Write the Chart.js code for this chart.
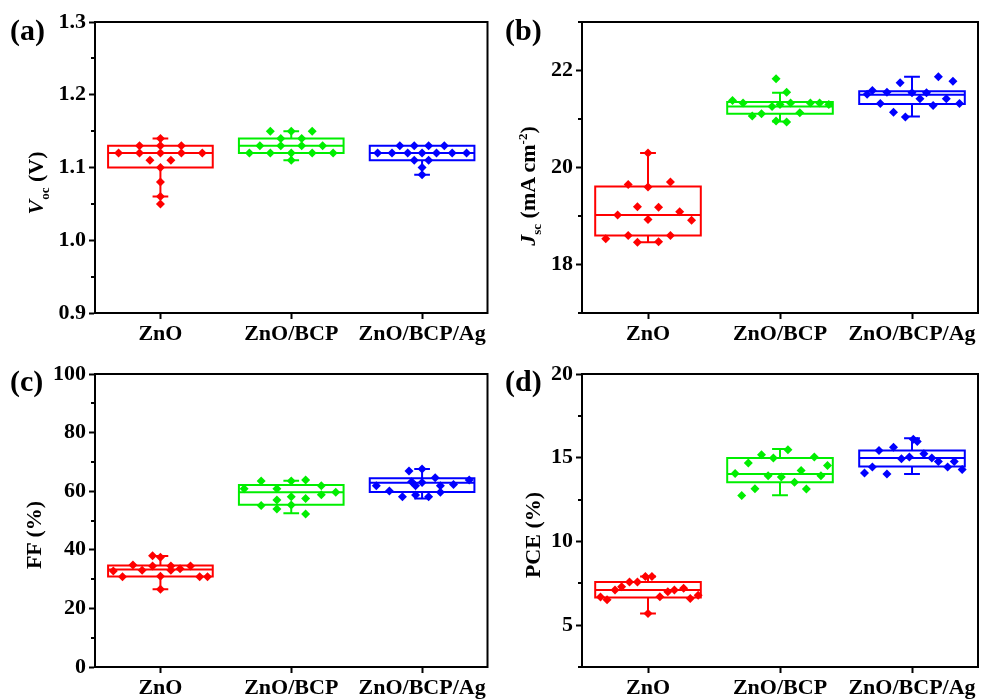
<!DOCTYPE html>
<html>
<head>
<meta charset="utf-8">
<script src="https://cdn.jsdelivr.net/npm/chart.js@4.4.1/dist/chart.umd.min.js"></script>
<style>
  body { margin: 0; background: #fff; }
  #wrap { position: relative; width: 984px; height: 699px; overflow: hidden; font-family: 'Liberation Serif', 'Times New Roman', serif; font-weight: bold; color: #000; }
  .pane { position: absolute; }
  .tag { position: absolute; font-size: 30px; line-height: 30px; }
  .ytitle { position: absolute; font-size: 22px; white-space: nowrap; transform: translate(-50%, -50%) rotate(-90deg); }
  .ytitle sub, .ytitle sup { font-size: 13px; }
</style>
</head>
<body>
<div id="wrap">
  <div class="pane" style="left:0;top:0"><canvas id="chartA" width="492" height="345"></canvas></div>
  <div class="pane" style="left:492px;top:0"><canvas id="chartB" width="492" height="345"></canvas></div>
  <div class="pane" style="left:0;top:345px"><canvas id="chartC" width="492" height="354"></canvas></div>
  <div class="pane" style="left:492px;top:345px"><canvas id="chartD" width="492" height="354"></canvas></div>

  <div class="tag" style="left:10px;top:15px">(a)</div>
  <div class="tag" style="left:505px;top:15px">(b)</div>
  <div class="tag" style="left:10px;top:366px">(c)</div>
  <div class="tag" style="left:505px;top:366px">(d)</div>

  <div class="ytitle" style="left:38px;top:183px"><i>V</i><sub>oc</sub> (V)</div>
  <div class="ytitle" style="left:530px;top:186px"><i>J</i><sub>sc</sub> (mA cm<sup>-2</sup>)</div>
  <div class="ytitle" style="left:34px;top:535px">FF (%)</div>
  <div class="ytitle" style="left:533px;top:535px">PCE (%)</div>
</div>

<script>
// categories and colours
const categories = ['ZnO', 'ZnO/BCP', 'ZnO/BCP/Ag'];
const colors = ['#ff0000', '#00ee00', '#0000ff'];

// (a) Voc
const vocTicks = [0.9, 1.0, 1.1, 1.2, 1.3];
const vocMinor = [0.95, 1.05, 1.15, 1.25];
const vocZnO = [1.12, 1.13, 1.12, 1.14, 1.13, 1.12, 1.11, 1.11, 1.10, 1.08, 1.06, 1.05, 1.13, 1.12, 1.12];
const vocZnOJit = [-0.32, -0.16, -0.16, 0, 0, 0, -0.08, 0.08, 0, 0, 0, 0, 0.16, 0.16, 0.32];
const vocBCP = [1.15, 1.15, 1.15, 1.14, 1.14, 1.13, 1.13, 1.13, 1.13, 1.12, 1.12, 1.12, 1.12, 1.12, 1.11];
const vocBCPJit = [-0.16, 0, 0.16, -0.08, 0.08, -0.24, -0.08, 0.08, 0.24, -0.32, -0.16, 0, 0.16, 0.32, 0];
const vocAg = [1.13, 1.13, 1.13, 1.13, 1.12, 1.12, 1.12, 1.12, 1.12, 1.12, 1.12, 1.11, 1.11, 1.10, 1.09];
const vocAgJit = [-0.17, -0.06, 0.05, 0.17, -0.34, -0.23, -0.11, 0, 0.11, 0.23, 0.34, -0.06, 0.05, 0, 0];
// [whisker low, q1, median, q3, whisker high]
const vocBoxes = [[1.06, 1.10, 1.12, 1.13, 1.14], [1.11, 1.12, 1.13, 1.14, 1.15], [1.09, 1.11, 1.12, 1.13, 1.13]];

// (b) Jsc
const jscTicks = [18, 20, 22];
const jscMinor = [17, 19, 21, 23];
const jscZnO = [20.30, 19.65, 19.60, 19.70, 19.19, 19.18, 19.02, 18.93, 19.09, 18.91, 18.53, 18.60, 18.46, 18.47, 18.60];
const jscZnOJit = [0, -0.15, 0, 0.17, -0.08, 0.08, -0.23, 0, 0.24, 0.33, -0.32, -0.15, -0.08, 0.08, 0.17];
const jscBCP = [21.83, 21.55, 21.38, 21.33, 21.26, 21.30, 21.33, 21.33, 21.33, 21.30, 21.06, 21.11, 21.13, 20.96, 20.94];
const jscBCPJit = [-0.03, 0.05, -0.36, -0.28, -0.06, 0, 0.08, 0.23, 0.30, 0.37, -0.21, -0.14, 0.15, -0.03, 0.05];
const jscAg = [21.51, 21.59, 21.55, 21.32, 21.14, 21.75, 21.04, 21.54, 21.42, 21.54, 21.28, 21.87, 21.42, 21.78, 21.32];
const jscAgJit = [-0.34, -0.30, -0.19, -0.24, -0.14, -0.09, -0.05, 0, 0.06, 0.11, 0.16, 0.20, 0.26, 0.31, 0.36];
const jscBoxes = [[18.46, 18.60, 19.02, 19.61, 20.30], [20.95, 21.11, 21.26, 21.35, 21.54], [21.05, 21.31, 21.50, 21.57, 21.87]];

// (c) FF
const ffTicks = [0, 20, 40, 60, 80, 100];
const ffMinor = [10, 30, 50, 70, 90];
const ffZnO = [32.8, 30.8, 34.8, 33.0, 38.0, 34.5, 37.5, 26.5, 31.0, 34.5, 33.0, 33.5, 34.5, 30.8, 30.8];
const ffZnOJit = [-0.36, -0.29, -0.21, -0.14, -0.06, -0.06, 0, 0, 0, 0.08, 0.08, 0.15, 0.23, 0.30, 0.36];
const ffBCP = [60.8, 63.5, 60.8, 63.5, 63.8, 61.9, 59.6, 58.8, 55.1, 57.0, 53.9, 58.1, 55.3, 57.5, 52.2];
const ffBCPJit = [-0.36, -0.23, -0.11, 0, 0.11, 0.23, 0.34, 0.23, -0.23, -0.11, -0.11, 0, 0, 0.11, 0.11];
const ffAg = [61.9, 60.1, 58.1, 66.9, 63.2, 61.9, 58.7, 67.6, 63.0, 58.1, 64.6, 61.9, 59.6, 62.3, 63.8];
const ffAgJit = [-0.35, -0.25, -0.15, -0.10, -0.08, -0.05, -0.05, 0, 0, 0.05, 0.10, 0.14, 0.14, 0.24, 0.36];
const ffBoxes = [[26.5, 30.9, 33.3, 34.6, 37.9], [52.5, 55.4, 59.6, 62.1, 63.6], [57.5, 59.7, 62.9, 64.4, 67.6]];

// (d) PCE
const pceTicks = [5, 10, 15, 20];
const pceMinor = [2.5, 7.5, 12.5, 17.5];
const pceZnO = [6.68, 6.51, 7.10, 7.30, 7.58, 7.58, 7.90, 7.90, 5.70, 6.70, 7.00, 7.10, 7.20, 6.59, 6.79];
const pceZnOJit = [-0.36, -0.31, -0.25, -0.20, -0.14, -0.08, -0.02, 0.03, 0, 0.09, 0.15, 0.20, 0.27, 0.32, 0.38];
const pceBCP = [14.05, 12.74, 14.68, 13.15, 15.18, 13.93, 14.98, 13.85, 15.48, 13.53, 14.24, 13.13, 15.04, 13.93, 14.54];
const pceBCPJit = [-0.34, -0.29, -0.24, -0.19, -0.14, -0.09, -0.05, 0.01, 0.06, 0.11, 0.16, 0.20, 0.26, 0.31, 0.36];
const pceAg = [14.09, 14.45, 15.43, 14.03, 15.63, 14.94, 15.04, 16.11, 15.97, 15.24, 14.98, 14.78, 14.45, 14.78, 14.29];
const pceAgJit = [-0.36, -0.30, -0.25, -0.19, -0.14, -0.08, -0.02, 0.01, 0.04, 0.09, 0.15, 0.20, 0.27, 0.32, 0.38];
const pceBoxes = [[5.70, 6.65, 7.10, 7.58, 7.90], [12.76, 13.53, 14.03, 14.98, 15.52], [14.03, 14.48, 14.98, 15.43, 16.17]];

const FONT = "'Liberation Serif', 'Times New Roman', serif";

// box + whisker, frame and minor ticks
const boxPlugin = {
    id: 'boxes',
    beforeDatasetsDraw(chart, args, opts) {
        const { ctx } = chart;
        const x = chart.scales.x, y = chart.scales.y;
        ctx.save();
        ctx.lineWidth = 2;
        opts.boxes.forEach((b, i) => {
            const c = i + 1;
            const xl = x.getPixelForValue(c - 0.4), xr = x.getPixelForValue(c + 0.4);
            const xm = x.getPixelForValue(c);
            const cl = x.getPixelForValue(c - 0.06), cr = x.getPixelForValue(c + 0.06);
            const [lo, q1, med, q3, hi] = b.map(v => y.getPixelForValue(v));
            ctx.strokeStyle = colors[i];
            ctx.beginPath();
            ctx.rect(xl, q3, xr - xl, q1 - q3);
            ctx.moveTo(xl, med); ctx.lineTo(xr, med);
            ctx.moveTo(xm, q3); ctx.lineTo(xm, hi);
            ctx.moveTo(cl, hi); ctx.lineTo(cr, hi);
            ctx.moveTo(xm, q1); ctx.lineTo(xm, lo);
            ctx.moveTo(cl, lo); ctx.lineTo(cr, lo);
            ctx.stroke();
        });
        ctx.restore();
    },
    afterDraw(chart, args, opts) {
        const { ctx, chartArea: a } = chart;
        const y = chart.scales.y;
        ctx.save();
        ctx.strokeStyle = '#000';
        ctx.lineWidth = 2;
        ctx.strokeRect(a.left, a.top, a.right - a.left, a.bottom - a.top);
        ctx.beginPath();
        opts.minor.forEach(v => {
            const py = Math.round(y.getPixelForValue(v));
            ctx.moveTo(a.left, py); ctx.lineTo(a.left - 4, py);
        });
        ctx.stroke();
        ctx.restore();
    }
};

function scatterSet(values, jitter, idx) {
    return {
        type: 'scatter',
        data: values.map((v, k) => ({ x: idx + 1 + jitter[k], y: v })),
        pointStyle: 'rectRot',
        pointRadius: 4.5,
        backgroundColor: colors[idx],
        borderWidth: 0
    };
}

function makeChart(id, cfg) {
    const ctx = document.getElementById(id).getContext('2d');
    return new Chart(ctx, {
        type: 'scatter',
        data: {
            datasets: [
                scatterSet(cfg.sets[0], cfg.jits[0], 0),
                scatterSet(cfg.sets[1], cfg.jits[1], 1),
                scatterSet(cfg.sets[2], cfg.jits[2], 2)
            ]
        },
        options: {
            responsive: false,
            animation: false,
            layout: { padding: cfg.padding },
            plugins: {
                legend: { display: false },
                tooltip: { enabled: false },
                boxes: { boxes: cfg.boxes, minor: cfg.minor }
            },
            scales: {
                x: {
                    type: 'linear',
                    min: 0.5,
                    max: 3.5,
                    afterBuildTicks: s => { s.ticks = [1, 2, 3].map(v => ({ value: v })); },
                    afterFit: s => { s.height = cfg.xHeight; },
                    grid: { drawOnChartArea: false, tickLength: 6, tickWidth: 2, tickColor: '#000' },
                    border: { color: '#000', width: 2 },
                    ticks: {
                        color: '#000',
                        padding: 2,
                        maxRotation: 0,
                        font: { family: FONT, size: 22, weight: 'bold' },
                        callback: v => categories[v - 1]
                    }
                },
                y: {
                    min: cfg.min,
                    max: cfg.max,
                    afterBuildTicks: s => { s.ticks = cfg.ticks.map(v => ({ value: v })); },
                    afterFit: s => { s.width = cfg.yWidth; },
                    grid: { drawOnChartArea: false, tickLength: 6, tickWidth: 2, tickColor: '#000' },
                    border: { color: '#000', width: 2 },
                    ticks: {
                        color: '#000',
                        padding: 3,
                        font: { family: FONT, size: 22, weight: 'bold' },
                        callback: cfg.fmt
                    }
                }
            }
        },
        plugins: [boxPlugin]
    });
}

document.addEventListener('DOMContentLoaded', () => {
    makeChart('chartA', {
        sets: [vocZnO, vocBCP, vocAg], jits: [vocZnOJit, vocBCPJit, vocAgJit],
        boxes: vocBoxes, minor: vocMinor, ticks: vocTicks, min: 0.9, max: 1.3,
        fmt: v => v.toFixed(1),
        padding: { top: 22, right: 1, left: 0, bottom: 0 }, yWidth: 95, xHeight: 32
    });
    makeChart('chartB', {
        sets: [jscZnO, jscBCP, jscAg], jits: [jscZnOJit, jscBCPJit, jscAgJit],
        boxes: jscBoxes, minor: jscMinor, ticks: jscTicks, min: 17, max: 23,
        fmt: v => v,
        padding: { top: 22, right: 6, left: 0, bottom: 0 }, yWidth: 90, xHeight: 32
    });
    makeChart('chartC', {
        sets: [ffZnO, ffBCP, ffAg], jits: [ffZnOJit, ffBCPJit, ffAgJit],
        boxes: ffBoxes, minor: ffMinor, ticks: ffTicks, min: 0, max: 100,
        fmt: v => v,
        padding: { top: 29, right: 1, left: 0, bottom: 0 }, yWidth: 95, xHeight: 32
    });
    makeChart('chartD', {
        sets: [pceZnO, pceBCP, pceAg], jits: [pceZnOJit, pceBCPJit, pceAgJit],
        boxes: pceBoxes, minor: pceMinor, ticks: pceTicks, min: 2.5, max: 20,
        fmt: v => v,
        padding: { top: 29, right: 6, left: 0, bottom: 0 }, yWidth: 90, xHeight: 32
    });
});
</script>
</body>
</html>
